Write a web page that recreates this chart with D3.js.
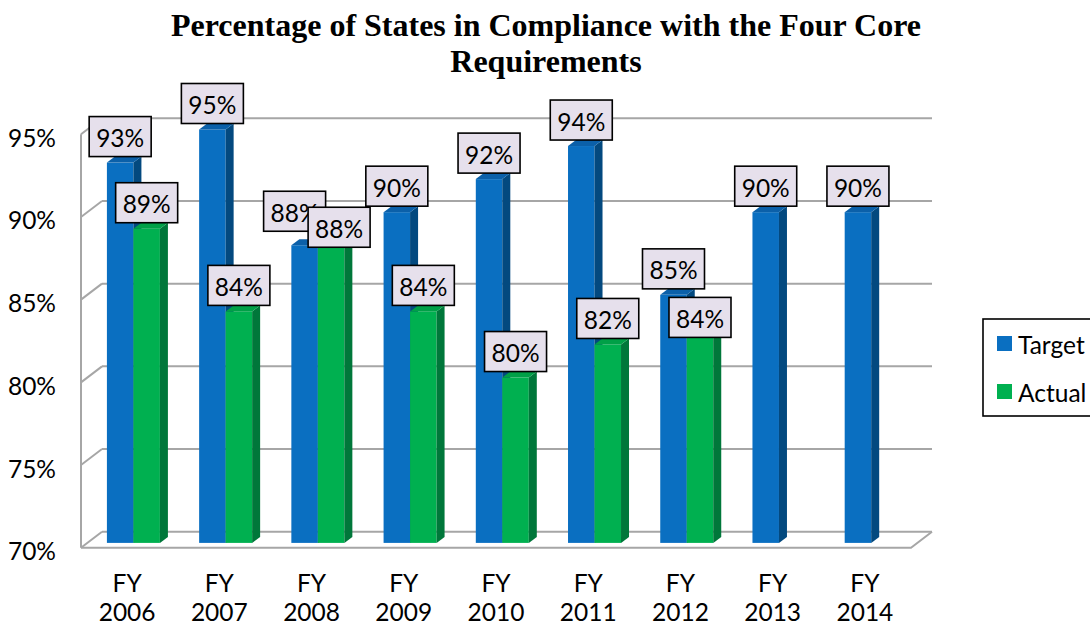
<!DOCTYPE html>
<html>
<head>
<meta charset="utf-8">
<script src="https://cdn.jsdelivr.net/npm/d3@7"></script>
<style>
  body { margin: 0; background: #fff; }
  text { font-family: Lato, "Open Sans", sans-serif; }
</style>
</head>
<body>
<div id="chart"></div>
<script>
// DATA
var years = ["2006", "2007", "2008", "2009", "2010", "2011", "2012", "2013", "2014"];
var target = [93, 95, 88, 90, 92, 94, 85, 90, 90];
var actual = [89, 84, 88, 84, 80, 82, 84, null, null];
var seriesNames = ["Target", "Actual"];
var yTicks = [70, 75, 80, 85, 90, 95];
var titleLines = ["Percentage of States in Compliance with the Four Core", "Requirements"];

// SIZES
w = 1090;
h = 625;
// depth of the floor (front plane -> back wall)
var DX = 21, DY = -16;
// bar sits part way into the depth, and has its own small depth
var t0 = 0.3;
var bdx = 8, bdy = -6;
var barW = 26.5;
var fontSize = "24.5px";

var colors = {
    Target: { front: "#0a6fc1", side: "#03497f", top: "#0b60a9" },
    Actual: { front: "#00b050", side: "#00773a", top: "#00a047" }
};

var svg = d3
    .select("#chart")
    .append("svg")
    .attr("width", w)
    .attr("height", h);

// scales on the front plane
var x = d3
    .scaleBand()
    .domain(years)
    .range([81, 911])
    .padding(0);

var y = d3
    .scaleLinear()
    .domain([70, 95])
    .range([547.7, 134.3]);

// title
svg.append("g")
    .selectAll("text")
    .data(titleLines)
    .enter()
    .append("text")
    .attr("x", 546)
    .attr("y", (d, i) => 36 + i * 36)
    .attr("text-anchor", "middle")
    .style("font-family", "'Liberation Serif', 'Times New Roman', serif")
    .style("font-weight", "bold")
    .style("font-size", "32px")
    .text(d => d);

// walls and grid
var grid = svg.append("g")
    .attr("fill", "none")
    .attr("stroke", "#a6a6a6")
    .attr("stroke-width", 2);

var xLeft = x.range()[0], xRight = x.range()[1];

yTicks.forEach(t => {
    // back wall line
    grid.append("line")
        .attr("x1", xLeft + DX).attr("y1", y(t) + DY)
        .attr("x2", xRight + DX).attr("y2", y(t) + DY);
    // side wall diagonal
    grid.append("line")
        .attr("x1", xLeft).attr("y1", y(t))
        .attr("x2", xLeft + DX).attr("y2", y(t) + DY);
});
// front vertical axis
grid.append("line")
    .attr("x1", xLeft).attr("y1", y(95))
    .attr("x2", xLeft).attr("y2", y(70));
// floor front edge and right edge
grid.append("path")
    .attr("d", d3.line()([
        [xLeft, y(70)],
        [xRight, y(70)],
        [xRight + DX, y(70) + DY]
    ]));

// y labels
svg.append("g")
    .selectAll("text")
    .data(yTicks)
    .enter()
    .append("text")
    .attr("x", 56)
    .attr("y", d => y(d) + 3)
    .attr("text-anchor", "end")
    .attr("dominant-baseline", "central")
    .style("font-size", fontSize)
    .text(d => d + "%");

// x labels
var xl = svg.append("g")
    .selectAll("g")
    .data(years)
    .enter()
    .append("g")
    .attr("transform", d => "translate(" + (x(d) + x.bandwidth() / 2) + ",0)");
xl.append("text")
    .attr("y", 582)
    .attr("text-anchor", "middle")
    .attr("dominant-baseline", "central")
    .style("font-size", fontSize)
    .text("FY");
xl.append("text")
    .attr("y", 611)
    .attr("text-anchor", "middle")
    .attr("dominant-baseline", "central")
    .style("font-size", fontSize)
    .text(d => d);

// bars
var bars = [];
years.forEach((yr, i) => {
    [target[i], actual[i]].forEach((v, s) => {
        if (v == null) return;
        var fx = x(yr) + x.bandwidth() / 2 - barW + s * barW + t0 * DX;
        bars.push({ year: yr, series: seriesNames[s], value: v, fx: fx });
    });
});

function fy(v) { return y(v) + t0 * DY; }

var barG = svg.append("g")
    .selectAll("g")
    .data(bars)
    .enter()
    .append("g");

barG.append("rect")
    .attr("x", d => d.fx)
    .attr("y", d => fy(d.value))
    .attr("width", barW)
    .attr("height", d => fy(70) - fy(d.value))
    .attr("fill", d => colors[d.series].front);

barG.append("path")
    .attr("d", d => d3.line()([
        [d.fx + barW, fy(d.value)],
        [d.fx + barW + bdx, fy(d.value) + bdy],
        [d.fx + barW + bdx, fy(70) + bdy],
        [d.fx + barW, fy(70)]
    ]) + "Z")
    .attr("fill", d => colors[d.series].side);

barG.append("path")
    .attr("d", d => d3.line()([
        [d.fx, fy(d.value)],
        [d.fx + bdx, fy(d.value) + bdy],
        [d.fx + barW + bdx, fy(d.value) + bdy],
        [d.fx + barW, fy(d.value)]
    ]) + "Z")
    .attr("fill", d => colors[d.series].top);

// value labels: target first, then actual on top
// a few labels were nudged by hand in the original to limit overlap
var nudge = {
    "Target 2008": [-10, -8],
    "Actual 2008": [8, 8],
    "Actual 2012": [0, 32]
};
var labelData = bars.filter(d => d.series == "Target").concat(bars.filter(d => d.series == "Actual"));
var boxW = 62, boxH = 40;
var lab = svg.append("g")
    .selectAll("g")
    .data(labelData)
    .enter()
    .append("g")
    .attr("transform", d => {
        var n = nudge[d.series + " " + d.year] || [0, 0];
        return "translate(" + (d.fx + barW / 2 + n[0]) + "," + (fy(d.value) + bdy - boxH / 2 + n[1]) + ")";
    });
lab.append("rect")
    .attr("x", -boxW / 2)
    .attr("y", -boxH / 2)
    .attr("width", boxW)
    .attr("height", boxH)
    .attr("fill", "#e6e0ec")
    .attr("stroke", "#000")
    .attr("stroke-width", 1.6);
lab.append("text")
    .attr("text-anchor", "middle")
    .attr("dominant-baseline", "central")
    .attr("y", 1)
    .style("font-size", fontSize)
    .text(d => d.value + "%");

// legend
var leg = svg.append("g");
leg.append("rect")
    .attr("x", 983)
    .attr("y", 319)
    .attr("width", 120)
    .attr("height", 97)
    .attr("fill", "#fff")
    .attr("stroke", "#000")
    .attr("stroke-width", 1.6);
var li = leg.selectAll("g")
    .data(seriesNames)
    .enter()
    .append("g")
    .attr("transform", (d, i) => "translate(997," + (336 + i * 48) + ")");
li.append("rect")
    .attr("width", 15)
    .attr("height", 15)
    .attr("fill", d => colors[d].front);
li.append("text")
    .attr("x", 21)
    .attr("y", 8)
    .attr("dominant-baseline", "central")
    .style("font-size", fontSize)
    .text(d => d);
</script>
</body>
</html>
